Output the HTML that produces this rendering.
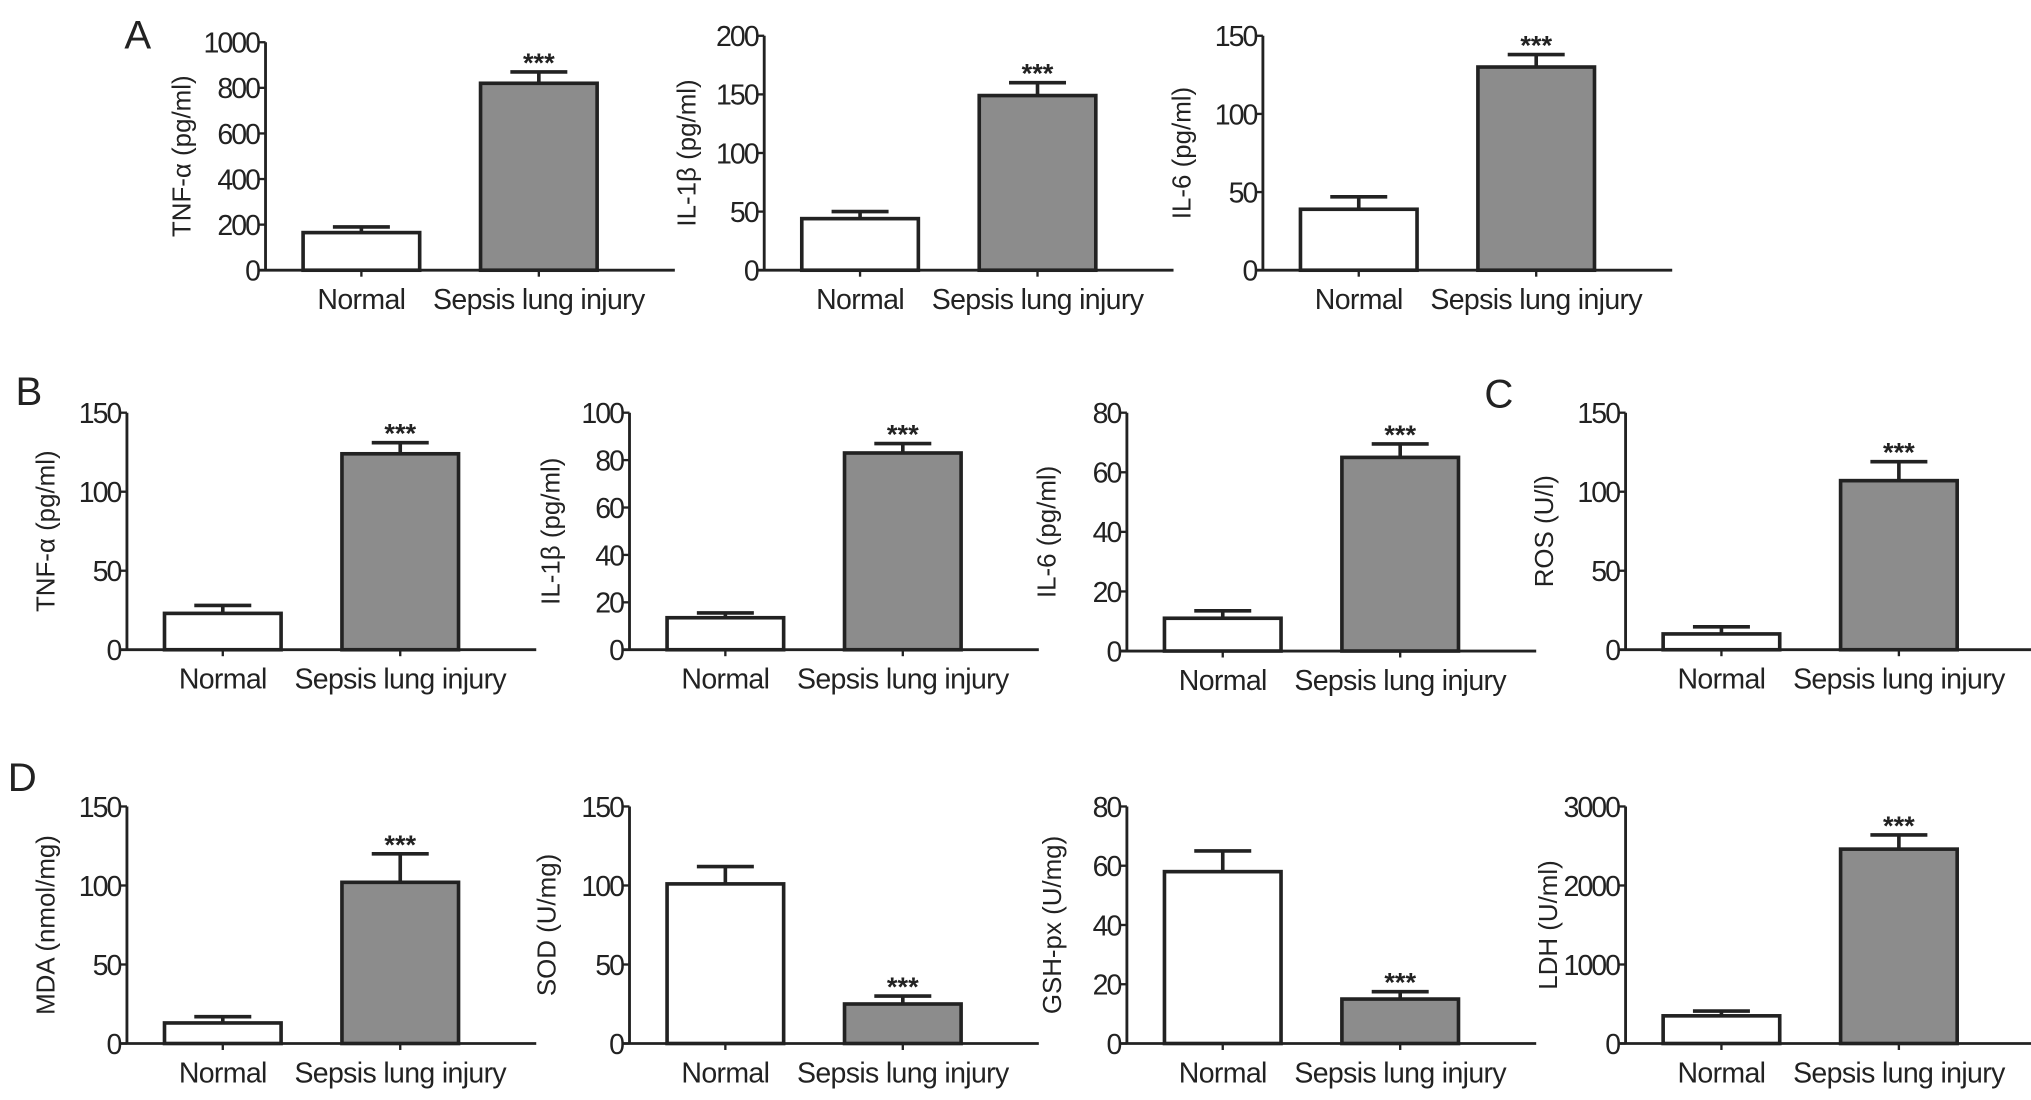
<!DOCTYPE html>
<html><head><meta charset="utf-8"><style>
html,body{margin:0;padding:0;background:#fff;}
svg{display:block;}
text{font-family:"Liberation Sans",Arial,sans-serif;fill:#222;}
</style></head><body>
<svg id="fig" width="2031" height="1100" viewBox="0 0 1568 848" xmlns="http://www.w3.org/2000/svg">
<text x="96" y="37" font-size="31">A</text>
<text x="12" y="312" font-size="31">B</text>
<text x="1146" y="314" font-size="31">C</text>
<text x="6" y="610" font-size="31">D</text>
</svg>
<script>
const categories = ["Normal", "Sepsis lung injury"];
const chartIds = ["a-tnf","a-il1b","a-il6","b-tnf","b-il1b","b-il6","c-ros","d-mda","d-sod","d-gshpx","d-ldh"];
const yTitles = ["TNF-α (pg/ml)","IL-1β (pg/ml)","IL-6 (pg/ml)","TNF-α (pg/ml)","IL-1β (pg/ml)","IL-6 (pg/ml)","ROS (U/l)","MDA (nmol/mg)","SOD (U/mg)","GSH-px (U/mg)","LDH (U/ml)"];
const normalValues = [165, 44, 39, 23, 13.5, 11, 10, 13, 101, 58, 350];
const normalErrors = [25, 6, 8, 5, 2, 2.5, 4.5, 4, 11, 7, 60];
const sepsisValues = [820, 149, 130, 124, 83, 65, 107, 102, 25, 15, 2460];
const sepsisErrors = [50, 11, 8, 7, 4, 4.5, 12, 18, 5, 2.5, 180];
const yMaxes = [1000, 200, 150, 150, 100, 80, 150, 150, 150, 80, 3000];
const tickSteps = [200, 50, 50, 50, 20, 20, 50, 50, 50, 20, 1000];

// layout (pixel geometry, not data)
const layout = [
  {ax:205, top:32, zero:208, lx:140},
  {ax:590, top:27, zero:208, lx:530},
  {ax:975, top:27, zero:208, lx:912},
  {ax:98, top:318, zero:501, lx:35},
  {ax:486, top:318, zero:501, lx:425},
  {ax:870, top:318, zero:502, lx:808},
  {ax:1255, top:318, zero:501, lx:1192},
  {ax:98, top:622, zero:805, lx:35},
  {ax:486, top:622, zero:805, lx:422},
  {ax:870, top:622, zero:805, lx:812},
  {ax:1255, top:622, zero:805, lx:1195}
];
const NS = "http://www.w3.org/2000/svg";
const svg = document.getElementById("fig");
function mk(tag, attrs, parent){const e=document.createElementNS(NS,tag);for(const k in attrs)e.setAttribute(k,attrs[k]);(parent||svg).appendChild(e);return e;}

chartIds.forEach((id,i)=>{
  const L = layout[i];
  const g = mk("g",{});
  
  
  const y = v => L.zero - (v / yMaxes[i]) * (L.zero - L.top);
  const barX = [L.ax + 29, L.ax + 166];
  const barW = 90;
  const right = L.ax + 316;
  const ya = mk("line",{x1:L.ax,y1:L.top,x2:L.ax,y2:L.zero,stroke:"#222","stroke-width":2.2},g);
  
  
  const xa = mk("line",{x1:L.ax-5,y1:L.zero,x2:right,y2:L.zero,stroke:"#222","stroke-width":2.2},g);
  
  
  for(let v=0; v<=yMaxes[i]+1e-9; v+=tickSteps[i]){
    const ty=y(v);
    const tk = mk("line",{x1:L.ax-5,y1:ty,x2:L.ax,y2:ty,stroke:"#222","stroke-width":1.8},g);
    
    
    const tl = mk("text",{x:L.ax-5,y:ty+8,"font-size":22,"text-anchor":"end","letter-spacing":"-1.5"},g);
    tl.textContent = String(v);
    
    
  }
  const yt = mk("text",{x:0,y:0,"font-size":20,"text-anchor":"middle",transform:`translate(${L.lx+7},${(L.top+L.zero)/2}) rotate(-90)`},g);
  yt.textContent = yTitles[i];
  
  
  const vals=[normalValues[i], sepsisValues[i]], errs=[normalErrors[i], sepsisErrors[i]];
  vals.forEach((v,j)=>{
    const cx = barX[j] + barW/2;
    const et = y(v+errs[j]);
    const el = mk("line",{x1:cx,y1:et,x2:cx,y2:y(v),stroke:"#222","stroke-width":2.8},g);
    
    
    const ec = mk("line",{x1:cx-22,y1:et,x2:cx+22,y2:et,stroke:"#222","stroke-width":2.8},g);
    
    
    const r = mk("rect",{x:barX[j],y:y(v),width:barW,height:L.zero-y(v),fill:j?"#8c8c8c":"#fff",stroke:"#222","stroke-width":2.8},g);
    
    
    const xt = mk("line",{x1:cx,y1:L.zero,x2:cx,y2:L.zero+5,stroke:"#222","stroke-width":1.8},g);
    
    
    const xl = mk("text",{x:cx,y:L.zero+30,"font-size":22,"text-anchor":"middle","letter-spacing":"-0.5"},g);
    xl.textContent = categories[j];
    
    
    if(j===1){
      const st = mk("text",{x:cx,y:et,"font-size":21,"text-anchor":"middle","font-weight":"bold"},g);
      st.textContent = "***";
      
      
    }
  });
});
</script>
</body></html>
